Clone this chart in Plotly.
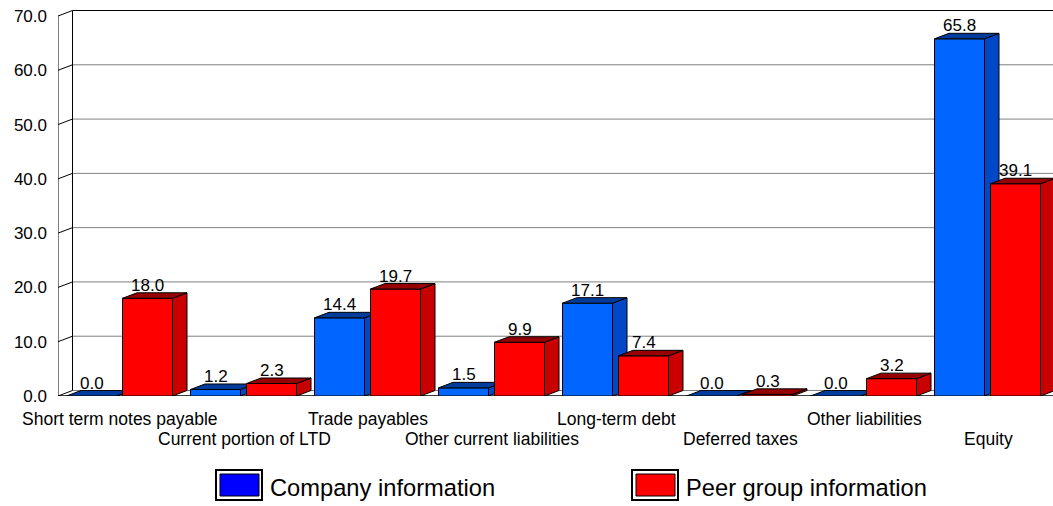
import plotly.graph_objects as go

# ---- data -------------------------------------------------------------
categories = [
    "Short term notes payable", "Current portion of LTD", "Trade payables",
    "Other current liabilities", "Long-term debt", "Deferred taxes",
    "Other liabilities", "Equity",
]
company = [0.0, 1.2, 14.4, 1.5, 17.1, 0.0, 0.0, 65.8]
peer = [18.0, 2.3, 19.7, 9.9, 7.4, 0.3, 3.2, 39.1]
y_ticks = [0, 10, 20, 30, 40, 50, 60, 70]
series_names = ["Company information", "Peer group information"]

# ---- geometry (pixels -> axis units) -----------------------------------
W, H = 1053, 506
ML, MR, MT, MB = 58, 0, 10, 110
PLOT_W = W - ML - MR
PLOT_H = H - MT - MB
CAT_PX = 124.0                 # width of one category slot
UNIT_PX = 380.0 / 70.0         # pixels per value unit
X_MAX = PLOT_W / CAT_PX
Y_MAX = PLOT_H / UNIT_PX

DX = 14.5 / CAT_PX             # depth offset of the 3-D extrusion
DY = 5.5 / UNIT_PX
BAR_W = 50.0 / CAT_PX
OFFSETS = [8.5 / CAT_PX, 64.5 / CAT_PX]

FONT = "Liberation Sans, Arial, sans-serif"
FRONT = ["#0066FF", "#FF0000"]
SIDE = ["#0048C8", "#C80000"]
TOP = ["#003C9C", "#960000"]
SWATCH = ["#0000FF", "#FF0000"]
LABEL_ROWS = [418.5, 438.5]    # staggered category label rows (pixel y)


def paper_x(px):
    return (px - ML) / PLOT_W


def paper_y(py):
    return (H - MB - py) / PLOT_H


fig = go.Figure()
annotations = []

for s, values in enumerate([company, peer]):
    lefts = [i + OFFSETS[s] for i in range(len(categories))]
    centers = [x + BAR_W / 2 for x in lefts]

    # front faces
    fig.add_trace(go.Bar(
        x=centers, y=values, width=BAR_W, name=series_names[s],
        marker=dict(color=FRONT[s], line=dict(color="black", width=1)),
        showlegend=False, hoverinfo="skip", zorder=s + 1,
    ))

    # top and side faces of each bar
    top_x, top_y, side_x, side_y = [], [], [], []
    for x0, v in zip(lefts, values):
        x1 = x0 + BAR_W
        top_x += [x0, x0 + DX, x1 + DX, x1, x0, None]
        top_y += [v, v + DY, v + DY, v, v, None]
        side_x += [x1, x1, x1 + DX, x1 + DX, x1, None]
        side_y += [0, v, v + DY, DY, 0, None]
    fig.add_trace(go.Scatter(
        x=side_x, y=side_y, mode="lines", fill="toself", fillcolor=SIDE[s],
        line=dict(color="black", width=1), showlegend=False,
        hoverinfo="skip", zorder=s + 1,
    ))
    fig.add_trace(go.Scatter(
        x=top_x, y=top_y, mode="lines", fill="toself", fillcolor=TOP[s],
        line=dict(color="black", width=1), showlegend=False,
        hoverinfo="skip", zorder=s + 1,
    ))

    # value labels
    for c, v in zip(centers, values):
        annotations.append(dict(
            x=c, y=v + DY, text=f"{v:.1f}", showarrow=False,
            xanchor="center", yanchor="bottom", yshift=-4,
            font=dict(family=FONT, size=17, color="black"),
        ))

# category labels on two staggered rows
for i, name in enumerate(categories):
    annotations.append(dict(
        x=i + 0.5, xref="x", y=paper_y(LABEL_ROWS[i % 2]), yref="paper",
        text=name, showarrow=False, xanchor="center", yanchor="middle",
        font=dict(family=FONT, size=17.5, color="black"),
    ))

# ---- back wall, floor and front axis frame ------------------------------
shapes = []
for v in y_ticks:
    color = "black" if v == y_ticks[-1] else "#808080"
    shapes.append(dict(type="line", layer="below", x0=DX, x1=X_MAX,
                       y0=v + DY, y1=v + DY, line=dict(color=color, width=1)))
    shapes.append(dict(type="line", layer="below", x0=0, x1=DX,
                       y0=v, y1=v + DY, line=dict(color="black", width=1)))
shapes.append(dict(type="line", layer="below", x0=0, x1=0, y0=0, y1=y_ticks[-1],
                   line=dict(color="black", width=1)))
shapes.append(dict(type="line", layer="below", x0=DX, x1=DX, y0=DY,
                   y1=y_ticks[-1] + DY, line=dict(color="black", width=1)))
shapes.append(dict(type="line", layer="below", x0=0, x1=X_MAX, y0=0, y1=0,
                   line=dict(color="black", width=1.5)))

# ---- legend ------------------------------------------------------------
legend_x = [216, 632]
for s, name in enumerate(series_names):
    x0 = legend_x[s]
    shapes.append(dict(type="rect", xref="paper", yref="paper",
                       x0=paper_x(x0), x1=paper_x(x0 + 46),
                       y0=paper_y(500), y1=paper_y(470),
                       fillcolor="white", line=dict(color="black", width=2)))
    shapes.append(dict(type="rect", xref="paper", yref="paper",
                       x0=paper_x(x0 + 4), x1=paper_x(x0 + 43),
                       y0=paper_y(496), y1=paper_y(474),
                       fillcolor=SWATCH[s], line=dict(color="black", width=1)))
    annotations.append(dict(
        xref="paper", yref="paper", x=paper_x(x0 + 52), y=paper_y(488),
        text=name, showarrow=False, xanchor="left", yanchor="middle",
        font=dict(family=FONT, size=23.7, color="black"),
    ))

fig.update_layout(
    width=W, height=H,
    margin=dict(l=ML, r=MR, t=MT, b=MB, pad=0),
    paper_bgcolor="white", plot_bgcolor="white",
    barmode="overlay", hovermode=False, showlegend=False,
    shapes=shapes, annotations=annotations,
    font=dict(family=FONT, color="black"),
    xaxis=dict(
        range=[0, X_MAX], showgrid=False, zeroline=False, showline=False,
        showticklabels=False, ticks="", fixedrange=True,
    ),
    yaxis=dict(
        range=[0, Y_MAX], showgrid=False, zeroline=False, showline=False,
        tickvals=y_ticks, ticktext=[f"{v:.1f}" for v in y_ticks],
        ticks="", ticklabelstandoff=10,
        tickfont=dict(family=FONT, size=17, color="black"), fixedrange=True,
    ),
)

fig.write_html("out.html", config={"displayModeBar": False})
